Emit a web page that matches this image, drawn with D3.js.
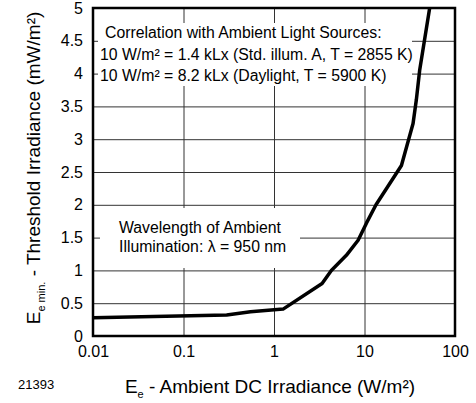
<!DOCTYPE html>
<html lang="en">
	<head>
		<meta charset="utf-8">
		<title>Threshold irradiance vs ambient DC irradiance</title>
		<script type="text/javascript" src="https://cdn.jsdelivr.net/npm/d3@7"></script>
		<style type="text/css">
			body { margin: 0; background: #fff; }
			text { font-family: "Liberation Sans", Arial, Helvetica, sans-serif; fill: #000; }
			.grid line { stroke: #333; stroke-width: 1; }
			.grid path { display: none; }
		</style>
	</head>
	<body>
		<script type="text/javascript">

			//Width and height
			var w = 476;
			var h = 403;

			//Curve
			var ambient = [0.01, 0.3, 0.55, 1.26, 3.4, 4.3, 6.3, 8.5, 10.5, 13.4, 25.6, 34.4, 37.4, 40.7, 52.5];
			var threshold = [0.28, 0.32, 0.37, 0.41, 0.80, 1.0, 1.23, 1.46, 1.72, 2.0, 2.6, 3.24, 3.6, 4.05, 5.0];

			var xTicks = [0.01, 0.1, 1, 10, 100];
			var yTicks = [0, 0.5, 1, 1.5, 2, 2.5, 3, 3.5, 4, 4.5, 5];

			var noteTop = ["Correlation with Ambient Light Sources:",
						   "10 W/m\u00B2 = 1.4 kLx (Std. illum. A, T = 2855 K)",
						   "10 W/m\u00B2 = 8.2 kLx (Daylight, T = 5900 K)"];
			var noteMid = ["Wavelength of Ambient",
						   "Illumination: \u03BB = 950 nm"];

			var pL = 93, pR = 455, pT = 8, pB = 336;

			var xScale = d3.scaleLog()
							.domain([0.01, 100])
							.range([pL, pR]);

			var yScale = d3.scaleLinear()
							.domain([0, 5])
							.range([pB, pT]);

			var svg = d3.select("body")
						.append("svg")
						.attr("width", w)
						.attr("height", h);

			svg.append("defs").append("clipPath")
				.attr("id", "plot")
				.append("rect")
				.attr("x", pL)
				.attr("y", pT)
				.attr("width", pR - pL)
				.attr("height", pB - pT);

			//Grid via axes
			svg.append("g")
				.attr("class", "grid")
				.attr("transform", "translate(0," + pB + ")")
				.call(d3.axisBottom(xScale)
					.tickValues(xTicks)
					.tickFormat(d3.format(""))
					.tickSize(-(pB - pT))
					.tickPadding(10));

			svg.append("g")
				.attr("class", "grid")
				.attr("transform", "translate(" + pL + ",0)")
				.call(d3.axisLeft(yScale)
					.tickValues(yTicks)
					.tickFormat(d3.format(""))
					.tickSize(-(pR - pL))
					.tickPadding(10));

			svg.selectAll(".grid text")
				.attr("font-size", "16px")
				.attr("font-family", "'Liberation Sans', Arial, sans-serif");

			//White boxes behind the notes
			svg.append("rect")
				.attr("x", 98).attr("y", 23)
				.attr("width", 314).attr("height", 63)
				.attr("fill", "#fff");
			svg.append("rect")
				.attr("x", 100).attr("y", 208)
				.attr("width", 200).attr("height", 60)
				.attr("fill", "#fff");

			//Frame
			svg.append("rect")
				.attr("x", pL)
				.attr("y", pT)
				.attr("width", pR - pL)
				.attr("height", pB - pT)
				.attr("fill", "none")
				.attr("stroke", "#000")
				.attr("stroke-width", 2.5);

			//Curve
			var line = d3.line()
				.x(function(d, i) { return xScale(ambient[i]); })
				.y(function(d) { return yScale(d); });

			svg.append("path")
				.datum(threshold)
				.attr("clip-path", "url(#plot)")
				.attr("d", line)
				.attr("fill", "none")
				.attr("stroke", "#000")
				.attr("stroke-width", 3.5)
				.attr("stroke-linejoin", "round");

			//Notes
			svg.selectAll("text.top")
				.data(noteTop)
				.enter()
				.append("text")
				.attr("class", "top")
				.attr("x", function(d, i) { return i == 0 ? 105 : 100; })
				.attr("y", function(d, i) { return 38 + i * 21.5; })
				.attr("font-size", "15.8px")
				.text(function(d) { return d; });

			svg.selectAll("text.mid")
				.data(noteMid)
				.enter()
				.append("text")
				.attr("class", "mid")
				.attr("x", 119)
				.attr("y", function(d, i) { return 233 + i * 19; })
				.attr("font-size", "15.8px")
				.text(function(d) { return d; });

			//Axis titles
			var xt = svg.append("text")
				.attr("x", 270)
				.attr("y", 393)
				.attr("text-anchor", "middle")
				.attr("font-size", "19px");
			xt.append("tspan").text("E");
			xt.append("tspan").attr("font-size", "11px").attr("dy", 5).text("e");
			xt.append("tspan").attr("dy", -5).text(" - Ambient DC Irradiance (W/m\u00B2)");

			var yt = svg.append("text")
				.attr("transform", "translate(40,168) rotate(-90)")
				.attr("text-anchor", "middle")
				.attr("font-size", "19px");
			yt.append("tspan").text("E");
			yt.append("tspan").attr("font-size", "11px").attr("dy", 5).text("e min.");
			yt.append("tspan").attr("dy", -5).text(" - Threshold Irradiance (mW/m\u00B2)");

			svg.append("text")
				.attr("x", 18)
				.attr("y", 389)
				.attr("font-size", "13px")
				.text("21393");

		</script>
	</body>
</html>
